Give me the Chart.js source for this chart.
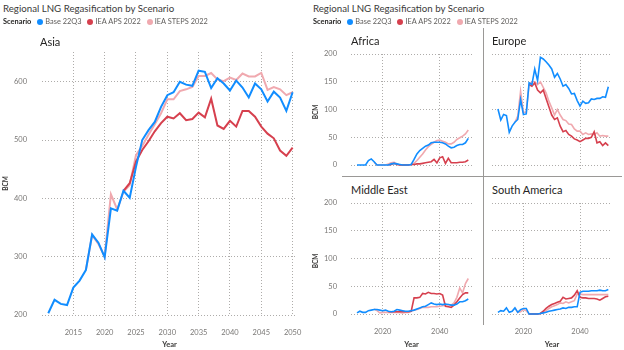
<!DOCTYPE html>
<html>
<head>
<meta charset="utf-8">
<script src="https://cdn.jsdelivr.net/npm/chart.js@4.4.1/dist/chart.umd.min.js"></script>
<style>
  body { margin: 0; background: #fff; }
  #page { position: relative; width: 624px; height: 350px; overflow: hidden; font-family: Lato, "Open Sans", sans-serif; }
  .txt { position: absolute; white-space: nowrap; color: #252423; line-height: 12px; }
  .head { font-size: 9.7px; color: #3b3a39; }
  .legend { font-size: 7.4px; color: #605E5C; }
  .legend b { color: #252423; margin-right: 0px; }
  .dot { display: inline-block; width: 6px; height: 6px; border-radius: 50%; margin: 0 2px 0 6px; vertical-align: -0.5px; }
  .panel { font-size: 11px; line-height: 14px; }
  .box { position: absolute; }
  .rule { position: absolute; background: #9a9896; }
</style>
</head>
<body>
<div id="page">
  <div class="box" style="left:0px;top:44px"><canvas id="asia" width="306" height="306"></canvas></div>
  <div class="box" style="left:310px;top:48px"><canvas id="africa" width="163" height="122"></canvas></div>
  <div class="box" style="left:492px;top:48px"><canvas id="europe" width="121" height="122"></canvas></div>
  <div class="box" style="left:310px;top:197px"><canvas id="mideast" width="163" height="153"></canvas></div>
  <div class="box" style="left:492px;top:197px"><canvas id="samerica" width="121" height="153"></canvas></div>

  <div class="txt head" style="left:3px;top:2px">Regional LNG Regasification by Scenario</div>
  <div class="txt legend" style="left:3px;top:16px" id="legL"></div>
  <div class="txt panel" style="left:40px;top:35px">Asia</div>

  <div class="txt head" style="left:313px;top:2px">Regional LNG Regasification by Scenario</div>
  <div class="txt legend" style="left:313px;top:16px" id="legR"></div>
  <div class="txt panel" style="left:351px;top:34px">Africa</div>
  <div class="txt panel" style="left:492px;top:34px">Europe</div>
  <div class="txt panel" style="left:351px;top:183px">Middle East</div>
  <div class="txt panel" style="left:492px;top:183px">South America</div>

  <div class="rule" style="left:483px;top:28px;width:1px;height:297px"></div>
  <div class="rule" style="left:342px;top:176px;width:280px;height:1px"></div>
</div>
<script>
const years = [2011, 2012, 2013, 2014, 2015, 2016, 2017, 2018, 2019, 2020,
  2021, 2022, 2023, 2024, 2025, 2026, 2027, 2028, 2029, 2030,
  2031, 2032, 2033, 2034, 2035, 2036, 2037, 2038, 2039, 2040,
  2041, 2042, 2043, 2044, 2045, 2046, 2047, 2048, 2049, 2050];

const scenarios = ['Base 22Q3', 'IEA APS 2022', 'IEA STEPS 2022'];
const colors = ['#118DFF', '#D6404E', '#F0A9AF'];

const asiaTicks = [2015, 2020, 2025, 2030, 2035, 2040, 2045, 2050];
const smallTicks = [2020, 2040];

// Asia (BCM)
const asiaBase = [203, 226, 219, 217, 247, 259, 277, 338, 324, 299,
  383, 379, 413, 401, 454, 500, 517, 531, 557, 577,
  582, 600, 595, 593, 619, 617, 589, 606, 597, 585,
  602, 590, 573, 597, 587, 566, 583, 573, 550, 582];
const asiaAps = [null, null, null, null, null, null, null, null, null, null,
  null, null, 413, 426, 463, 483, 498, 515, 529, 540,
  537, 546, 534, 536, 547, 539, 571, 525, 519, 533,
  523, 550, 550, 540, 523, 511, 503, 482, 473, 487];
const asiaSteps = [null, null, null, null, null, null, 277, 337, 322, 300,
  407, 381, 411, 423, 474, 490, 509, 527, 546, 570,
  570, 584, 587, 591, 610, 610, 615, 604, 601, 607,
  603, 614, 609, 609, 615, 586, 591, 587, 577, 582];

// Africa
const africaBase = [0, 0, 0, 0, 8, 11, 6, 0, 0, 0,
  0, 0, 2, 3, 2, 1, 0, 0, 0, 1,
  10, 20, 26, 30, 34, 36, 40, 41, 41, 41,
  40, 38, 34, 31, 32, 35, 37, 37, 40, 48];
const africaAps = [null, null, null, null, null, null, null, null, null, null,
  null, 0, 1, 3, 1, 0, 0, 0, 0, 1,
  1, 2, 2, 3, 4, 5, 6, 10, 4, 13,
  15, 3, 12, 4, 4, 4, 5, 5, 6, 9];
const africaSteps = [null, null, null, null, null, null, 5, 0, 0, 0,
  0, 2, 4, 5, 2, 0, 0, 0, 0, 1,
  3, 8, 14, 20, 27, 33, 37, 41, 44, 45,
  43, 41, 38, 38, 41, 46, 49, 52, 56, 63];

// Europe
const europeBase = [101, 81, 91, 89, 59, 70, 77, 82, 118, 91,
  92, 148, 145, 173, 152, 194, 191, 186, 180, 173,
  158, 165, 155, 142, 145, 138, 128, 129, 116, 106,
  115, 111, 112, 119, 118, 120, 120, 123, 122, 141];
const europeAps = [null, null, null, null, null, null, null, null, null, null,
  null, 145, 142, 148, 135, 130, 135, 120, 105, 90,
  82, 85, 70, 60, 62, 55, 52, 47, 45, 42,
  45, 48, 48, 50, 60, 40, 42, 35, 40, 35];
const europeSteps = [null, null, null, null, null, null, 77, 88, 133, 95,
  95, 145, 150, 150, 145, 150, 140, 130, 115, 103,
  90, 100, 90, 82, 80, 74, 73, 65, 61, 61,
  55, 58, 55, 56, 55, 58, 52, 53, 52, 52];

// Middle East
const mideastBase = [2, 5, 3, 3, 6, 7, 8, 8, 7, 6,
  7, 5, 4, 5, 8, 7, 6, 5, 5, 6,
  7, 9, 11, 13, 14, 17, 20, 18, 17, 18,
  17, 18, 17, 16, 16, 18, 22, 22, 24, 27];
const mideastAps = [null, null, null, null, null, null, null, null, null, null,
  null, 4, 4, 4, 4, 4, 4, 4, 4, 5,
  29, 29, 30, 37, 36, 39, 37, 37, 36, 37,
  34, 14, 13, 12, 16, 22, 29, 35, 38, 38];
const mideastSteps = [null, null, null, null, null, null, 9, 6, 2, 3,
  3, 3, 3, 3, 3, 3, 2, 3, 3, 5,
  7, 8, 10, 12, 12, 12, 13, 13, 13, 14,
  15, 16, 17, 16, 20, 30, 47, 38, 55, 64];

// South America
const samericaBase = [3, 6, 5, 11, 3, 5, 11, 3, 8, 10,
  10, 0, 0, 0, 0, 1, 2, 3, 5, 6,
  7, 8, 9, 11, 10, 12, 12, 13, 13, 39,
  41, 41, 41, 42, 42, 42, 43, 42, 42, 44];
const samericaAps = [null, null, null, null, null, null, null, null, null, null,
  null, 0, 0, 0, 0, 1, 5, 10, 14, 17,
  19, 21, 23, 30, 27, 28, 29, 34, 42, 30,
  29, 29, 28, 28, 28, 27, 25, 28, 31, 32];
const samericaSteps = [null, null, null, null, null, null, 11, 3, 4, 8,
  6, 0, 0, 0, 0, 1, 2, 6, 10, 13,
  15, 17, 20, 19, 22, 20, 22, 24, 36, 36,
  35, 35, 35, 35, 35, 35, 35, 35, 35, 35];

const FONT = 'Lato, "Open Sans", sans-serif';
Chart.defaults.font.family = FONT;
Chart.defaults.color = '#7a7876';

function legendHtml() {
  let html = '<b>Scenario</b>';
  scenarios.forEach((s, i) => {
    html += '<span class="dot" style="background:' + colors[i] + '"></span>' + s;
  });
  return html;
}
document.getElementById('legL').innerHTML = legendHtml();
document.getElementById('legR').innerHTML = legendHtml();

function toPoints(vals) {
  return years.map((y, i) => ({ x: y, y: vals[i] }));
}

function makeChart(id, series, o) {
  const datasets = series.map((vals, i) => ({
    label: scenarios[i],
    data: toPoints(vals),
    borderColor: colors[i],
    backgroundColor: colors[i],
    borderWidth: o.lineWidth,
    pointRadius: 0,
    tension: 0,
    fill: false
  }));
  const gridLine = { display: true, drawOnChartArea: true, color: '#aeacaa', drawTicks: false, lineWidth: 1 };
  return new Chart(document.getElementById(id), {
    type: 'line',
    data: { datasets },
    options: {
      responsive: false,
      animation: false,
      devicePixelRatio: 1,
      layout: { padding: { top: o.padTop, right: o.padRight, bottom: 0, left: 0 } },
      plugins: { legend: { display: false }, tooltip: { enabled: false } },
      scales: {
        x: {
          type: 'linear',
          min: o.xMin,
          max: o.xMax,
          afterBuildTicks: axis => { axis.ticks = o.xTicks.map(v => ({ value: v })); },
          afterFit: s => {
            s.height = o.xHeight;
            s.paddingLeft = 0;
            s.paddingRight = 0;
          },
          grid: gridLine,
          border: { display: false, dash: [1, 2] },
          ticks: {
            display: o.showX,
            padding: o.xPad,
            maxRotation: 0,
            autoSkip: false,
            font: { size: 7.5 },
            callback: v => String(v)
          },
          title: {
            display: o.showX,
            text: 'Year',
            color: '#3b3a39',
            font: { size: 7.5, weight: 'bold' },
            padding: { top: 0, bottom: 1 }
          }
        },
        y: {
          min: o.yMin,
          max: o.yMax,
          afterFit: s => {
            s.width = o.yWidth;
            s.paddingTop = 0;
            s.paddingBottom = 0;
          },
          grid: gridLine,
          border: { display: false, dash: [1, 2] },
          ticks: {
            display: o.showY,
            stepSize: o.step,
            includeBounds: false,
            padding: o.yPad,
            font: { size: 7.5 }
          },
          title: {
            display: o.showY,
            text: 'BCM',
            color: '#3b3a39',
            font: { size: 6.5, weight: 'bold' },
            padding: { top: 2, bottom: 0 }
          }
        }
      }
    }
  });
}

makeChart('asia', [asiaBase, asiaAps, asiaSteps], {
  xMin: 2010, xMax: 2050.7, xTicks: asiaTicks, showX: true, xHeight: 35, xPad: 13,
  yMin: 200, yMax: 651, step: 100, showY: true, yWidth: 42, yPad: 15, lineWidth: 2,
  padTop: 8, padRight: 9
});

const smallTop = { xMin: 2008.9, xMax: 2051.3, xTicks: smallTicks, showX: false, xHeight: 0, xPad: 0,
  yMin: -9, yMax: 200, step: 50, yPad: 14, lineWidth: 1.6, padTop: 6, padRight: 1 };
const smallBottom = { xMin: 2008.9, xMax: 2051.3, xTicks: smallTicks, showX: true, xHeight: 31, xPad: 8,
  yMin: -9, yMax: 200, step: 50, yPad: 14, lineWidth: 1.6, padTop: 6, padRight: 1 };

makeChart('africa', [africaBase, africaAps, africaSteps], Object.assign({}, smallTop, { showY: true, yWidth: 41 }));
makeChart('europe', [europeBase, europeAps, europeSteps], Object.assign({}, smallTop, { showY: false, yWidth: 0 }));
makeChart('mideast', [mideastBase, mideastAps, mideastSteps], Object.assign({}, smallBottom, { showY: true, yWidth: 41 }));
makeChart('samerica', [samericaBase, samericaAps, samericaSteps], Object.assign({}, smallBottom, { showY: false, yWidth: 0 }));
</script>
</body>
</html>
